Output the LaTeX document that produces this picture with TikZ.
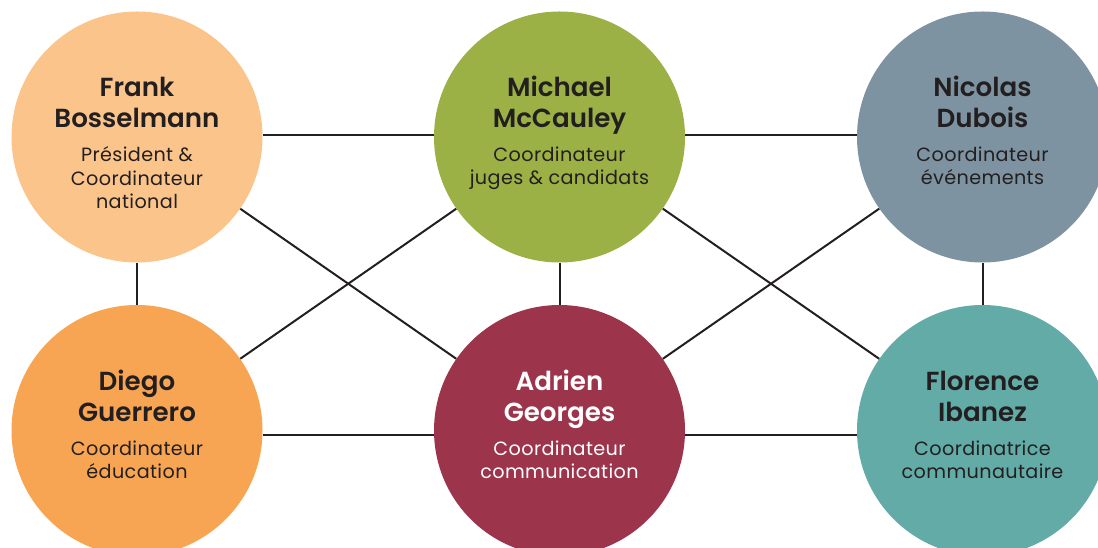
\documentclass[tikz,border=0pt]{standalone}
\usepackage{fontspec}
\setmainfont{Poppins}
\newfontfamily\namefont{Poppins}[UprightFont=* SemiBold]
\newfontfamily\rolefont{Poppins}[LetterSpace=2]
\usetikzlibrary{positioning}
\definecolor{colorPres}{HTML}{FAC48B}
\definecolor{colorJuges}{HTML}{9BB045}
\definecolor{colorEvent}{HTML}{7E93A1}
\definecolor{colorEdu}{HTML}{F7A553}
\definecolor{colorComm}{HTML}{9C344B}
\definecolor{colorCommu}{HTML}{62ABA7}
\definecolor{colorInk}{HTML}{231F20}
\tikzset{
   person/.style={circle,minimum size=188.25pt,inner sep=0pt},
   link/.style={line width=1.5pt,draw=colorInk},
   who/.style={align=center,inner sep=0pt,text depth=0pt,text=colorInk,
      font=\namefont\fontsize{19.6}{23.25}\selectfont},
   role/.style={align=center,inner sep=0pt,text=colorInk,
      font=\rolefont\fontsize{14.4}{17.5}\selectfont},
}

\begin{document}
\begin{tikzpicture}[x=0.75pt,y=-0.75pt]
        \useasboundingbox (0,0) rectangle (1098,548);

        \node[person,fill=colorPres]  (frank)    at (137,   137)   {};
        \node[person,fill=colorJuges] (michael)  at (559.5, 137)   {};
        \node[person,fill=colorEvent] (nicolas)  at (982.5, 137)   {};

        \node[person,fill=colorEdu]   (diego)    at (137,   430.5) {};
        \node[person,fill=colorComm]  (adrien)   at (559.5, 430.5) {};
        \node[person,fill=colorCommu] (florence) at (982.5, 430.5) {};

        \node[who,above=6.75pt of frank.center]    (frank-name)    {Frank\\Bosselmann};
        \node[role,below=14pt of frank-name]       (frank-role)    {Président \&\\Coordinateur\\national};

        \node[who,above=6.75pt of michael.center]  (michael-name)  {Michael\\McCauley};
        \node[role,below=14pt of michael-name]     (michael-role)  {Coordinateur\\juges \& candidats};

        \node[who,above=6.75pt of nicolas.center]  (nicolas-name)  {Nicolas\\Dubois};
        \node[role,below=14pt of nicolas-name]     (nicolas-role)  {Coordinateur\\événements};

        \node[who,above=6.75pt of diego.center]    (diego-name)    {Diego\\Guerrero};
        \node[role,below=14pt of diego-name]       (diego-role)    {Coordinateur\\éducation};

        \node[who,text=white,above=6.75pt of adrien.center] (adrien-name) {Adrien\\Georges};
        \node[role,text=white,below=14pt of adrien-name]    (adrien-role) {Coordinateur\\communication};

        \node[who,above=6.75pt of florence.center] (florence-name) {Florence\\Ibanez};
        \node[role,below=14pt of florence-name]    (florence-role) {Coordinatrice\\communautaire};

        % rows
        \draw[link] (frank.1) -- (michael.179);
        \draw[link] (michael.1) -- (nicolas.179);
        \draw[link] (diego.-2) -- (adrien.182);
        \draw[link] (adrien.-2) -- (florence.182);

        % columns
        \draw[link] (frank) -- (diego);
        \draw[link] (michael) -- (adrien);
        \draw[link] (nicolas) -- (florence);

        % crossings
        \draw[link] (frank) -- (adrien);
        \draw[link] (diego) -- (michael);
        \draw[link] (michael) -- (florence);
        \draw[link] (adrien) -- (nicolas);

      \end{tikzpicture}
\end{document}
